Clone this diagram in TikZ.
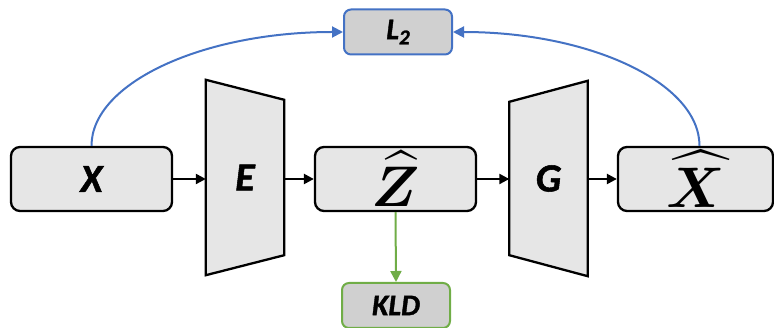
\documentclass[tikz,border=0pt]{standalone}
\usepackage{amsmath,bm,graphicx}
\usepackage{fontspec}
\setmainfont{Carlito}[BoldItalicFeatures={FakeBold=1.3}]
\usetikzlibrary{arrows.meta,calc}
\definecolor{boxfill}{HTML}{E6E6E6}
\definecolor{lossfill}{HTML}{D0D0D0}
\definecolor{lblue}{HTML}{4472C4}
\definecolor{lgreen}{HTML}{70AD47}
\tikzset{
  lblfont/.style={font=\fontsize{40}{40}\selectfont\bfseries\itshape},
  blk/.style={draw=black, line width=2.3pt, fill=boxfill, rounded corners=9pt,
    minimum width=161pt, minimum height=64pt, inner sep=0pt, lblfont},
  lossbox/.style={line width=2pt, fill=lossfill, rounded corners=7pt,
    minimum width=108pt, minimum height=45pt, inner sep=0pt,
    font=\fontsize{30}{30}\selectfont\bfseries\itshape},
  trap/.style={minimum width=78pt, minimum height=195pt, inner sep=0pt, lblfont},
  trapline/.style={draw=black, line width=2.3pt, fill=boxfill, line join=miter},
  arr/.style={line width=2.3pt, -{Triangle[length=10pt,width=10pt]}},
  barr/.style={draw=lblue, line width=2pt, -{Triangle[length=11pt,width=11pt]}},
  garr/.style={draw=lgreen, line width=2pt, -{Triangle[length=11pt,width=11pt]}},
}
\begin{document}
\begin{tikzpicture}[x=1pt,y=-1pt]
\useasboundingbox (0,0) rectangle (774,328);
% trapezoid label nodes
\node[trap] (E) at (245,177.5) {};
\node[trap] (G) at (548.5,178.5) {};
\draw[trapline] (E.north west) -- ($(E.north east)+(0,20)$) -- ($(E.south east)+(0,-20)$) -- (E.south west) -- cycle;
\draw[trapline] ($(G.north west)+(0,21)$) -- (G.north east) -- (G.south east) -- ($(G.south west)+(0,-21)$) -- cycle;
\node[lblfont] at (E) {E};
\node[lblfont] at (G) {G};
% boxes
\node[blk] (X) at (91.5,179) {X};
\node[blk] (Z) at (395.5,179) {\raisebox{-0.5ex}{\scalebox{2.3}{$\bm{\widehat{Z}}$}}};
\node[blk, minimum width=155pt] (Xh) at (695.5,179) {\raisebox{-0.5ex}{\scalebox{2.3}{$\bm{\widehat{X}}$}}};
\node[lossbox, draw=lblue] (L) at (398,32) {L\raisebox{-0.35ex}{\fontsize{21}{21}\selectfont 2}};
\node[lossbox, draw=lgreen] (K) at (396,305.5) {KLD};
% connectors
\draw[arr] (X.east) -- (X.east -| E.west);
\draw[arr] (E.east |- Z.west) -- (Z.west);
\draw[arr] (Z.east) -- (Z.east -| G.west);
\draw[arr] (G.east |- Xh.west) -- (Xh.west);
\draw[garr] (Z.south) -- (K.north);
\draw[barr] (X.north) .. controls +(0,-63) and +(-140,0) .. (L.west);
\coordinate (Xtop) at ($(Xh.north)+(4,0)$);
\draw[barr] (Xtop) .. controls +(0,-63) and +(137,0) .. (L.east);
\end{tikzpicture}
\end{document}
